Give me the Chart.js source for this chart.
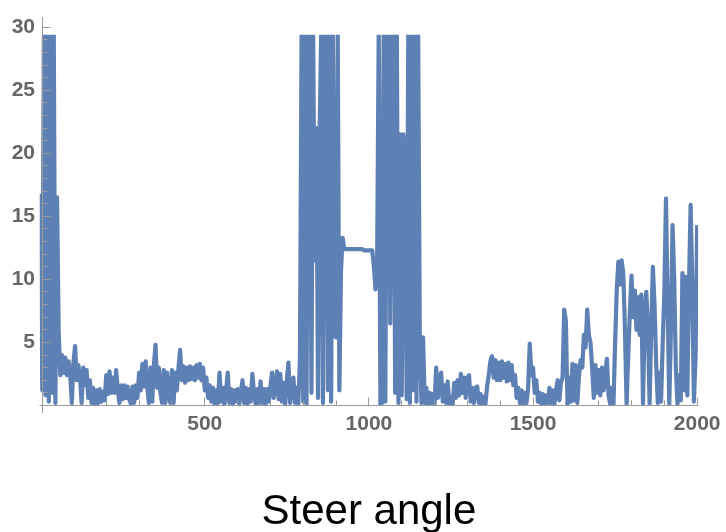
<!DOCTYPE html>
<html>
<head>
<meta charset="utf-8">
<title>Steer angle</title>
<script src="https://cdn.jsdelivr.net/npm/chart.js@4/dist/chart.umd.min.js"></script>
<style>
  html, body { margin: 0; padding: 0; background: #fff; }
  #wrap { width: 726px; height: 532px; }
</style>
</head>
<body>
<div id="wrap"><canvas id="steerChart" width="726" height="532"></canvas></div>
<script>
// one value every 5 samples (30 = cut off at the top)
const sampleStep = 5;
const steerAngle = [
    16.8, 1.2, 30, 0.8, 30, 0.3, 30, 1.0, 30, 0.2,          // 0
    16.5, 5.8, 2.4, 4.0, 2.6, 3.8, 2.4, 3.5, 2.5, 0.2,      // 50
    3.4, 4.7, 2.0, 3.2, 2.2, 0.2, 3.0, 1.6, 2.8, 0.6,       // 100
    2.0, 0.2, 1.4, 0.1, 1.2, 0.2, 1.3, 0.3, 1.1, 0.4,       // 150
    2.4, 0.9, 2.7, 1.0, 2.2, 1.0, 2.8, 1.2, 0.2, 1.6,       // 200
    0.5, 1.6, 0.6, 1.5, 0.5, 0.1, 1.5, 0.2, 1.6, 0.6,       // 250
    2.6, 1.2, 3.3, 1.5, 3.5, 1.4, 0.2, 3.0, 0.3, 3.2,       // 300
    4.8, 1.4, 3.0, 1.0, 0.2, 2.8, 0.2, 2.6, 1.0, 0.2,       // 350
    2.8, 0.2, 2.6, 1.2, 3.0, 4.4, 2.0, 3.1, 1.8, 3.0,       // 400
    2.0, 3.1, 2.1, 3.0, 2.0, 3.2, 2.2, 3.3, 2.0, 3.0,       // 450
    1.2, 2.2, 0.6, 1.6, 0.3, 1.4, 0.1, 1.2, 0.2, 2.6,       // 500
    0.3, 1.4, 0.1, 1.2, 2.6, 0.2, 1.3, 0.1, 1.2, 0.3,       // 550
    1.3, 0.1, 1.1, 2.0, 0.2, 1.4, 0.1, 1.3, 0.3, 2.5,       // 600
    1.0, 0.1, 1.3, 0.2, 1.9, 0.2, 1.3, 0.1, 1.3, 0.3,       // 650
    1.5, 2.6, 0.6, 1.4, 2.7, 0.5, 2.5, 0.3, 1.8, 0.1,       // 700
    2.0, 3.4, 0.2, 1.4, 2.2, 0.2, 1.4, 0.1, 3.7, 30,        // 750
    0.3, 30, 0.1, 30, 30, 1.0, 30, 11.5, 22.0, 0.6,         // 800
    22.0, 30, 0.2, 30, 30, 1.2, 30, 0.3, 30, 5.5,           // 850
    5.4, 30, 1.2, 10.7, 13.3, 12.4, 12.4, 12.4, 12.4, 12.4, // 900
    12.4, 12.4, 12.4, 12.4, 12.4, 12.4, 12.4, 12.3, 12.3, 12.3, // 950
    12.3, 12.3, 12.3, 11.1, 9.2, 11.0, 30, 0.1, 0.2, 30,    // 1000
    0.3, 30, 30, 6.5, 30, 30, 1.0, 30, 0.2, 21.5,           // 1050
    0.8, 21.5, 18.4, 0.5, 30, 0.2, 30, 1.2, 30, 0.3,        // 1100
    30, 5.6, 0.2, 5.4, 0.2, 1.4, 0.1, 1.0, 0.2, 0.9,        // 1150
    0.1, 3.0, 0.6, 1.4, 2.6, 0.3, 1.6, 0.2, 1.9, 0.1,       // 1200
    0.6, 0.1, 1.8, 0.6, 2.0, 0.8, 2.5, 1.0, 2.2, 0.6,       // 1250
    2.2, 2.4, 0.3, 1.4, 0.2, 1.4, 1.5, 0.2, 0.9, 0.1,       // 1300
    0.7, 0.1, 1.5, 2.4, 3.5, 3.9, 2.2, 3.6, 2.0, 3.4,       // 1350
    2.0, 3.5, 2.2, 3.3, 1.9, 3.4, 2.0, 3.2, 1.6, 2.4,       // 1400
    0.6, 1.4, 0.2, 1.2, 0.1, 1.0, 0.2, 1.4, 4.9, 2.4,       // 1450
    3.0, 1.0, 2.0, 0.3, 1.0, 0.1, 0.9, 0.1, 0.8, 0.2,       // 1500
    1.4, 0.2, 1.2, 0.1, 1.2, 2.0, 0.4, 1.8, 2.2, 7.6,       // 1550
    6.7, 0.1, 2.2, 0.3, 3.3, 0.4, 3.2, 0.2, 2.4, 3.6,       // 1600
    3.0, 5.6, 4.6, 7.6, 5.6, 5.0, 3.0, 0.6, 3.2, 1.0,       // 1650
    2.8, 0.8, 3.0, 1.2, 2.6, 3.7, 0.8, 0.1, 1.4, 0.1,       // 1700
    5.0, 9.2, 11.4, 9.6, 11.5, 10.4, 6.0, 0.1, 4.0, 7.5,    // 1750
    10.3, 7.0, 9.1, 6.0, 8.6, 5.6, 8.8, 0.1, 7.0, 9.0,      // 1800
    6.0, 0.1, 6.0, 11.0, 8.0, 3.4, 0.2, 2.6, 0.3, 5.0,      // 1850
    9.0, 16.4, 8.0, 0.1, 6.0, 14.3, 10.0, 3.0, 0.1, 2.4,    // 1900
    0.4, 10.5, 1.2, 10.2, 0.8, 9.5, 15.9, 9.8, 0.3, 3.8,    // 1950
    14.3                                                     // 2000
];
const xMajorTicks = [500, 1000, 1500, 2000];
const yMajorTicks = [5, 10, 15, 20, 25, 30];
const xMinorStep = 100;
const yMinorStep = 1;
const titleText = 'Steer angle';

const lineColor = '#5e81b5';
const axisColor = '#9a9a9a';
const labelColor = '#666666';
const plotTop = 29.4;   // plot range is cut here
const yAxisAtX = 6;

const puncte = steerAngle.map((v, i) => ({ x: i * sampleStep, y: v }));

// taie linia la marginea de sus a domeniului
const clipPlugin = {
    id: 'clipTop',
    beforeDatasetsDraw(chart) {
        const { ctx, chartArea } = chart;
        const yTop = chart.scales.y.getPixelForValue(plotTop);
        ctx.save();
        ctx.beginPath();
        ctx.rect(chartArea.left, yTop, chartArea.right - chartArea.left, chartArea.bottom - yTop);
        ctx.clip();
    },
    afterDatasetsDraw(chart) {
        chart.ctx.restore();
    }
};

// axe cu gradatii spre interior, ca in Mathematica
const axesPlugin = {
    id: 'axesInside',
    afterDraw(chart) {
        const { ctx, chartArea } = chart;
        const xs = chart.scales.x;
        const ys = chart.scales.y;
        const x0 = Math.floor(xs.getPixelForValue(yAxisAtX)) + 0.5;
        const y0 = Math.floor(ys.getPixelForValue(0)) + 0.5;

        ctx.save();
        ctx.strokeStyle = axisColor;
        ctx.lineWidth = 1;
        ctx.beginPath();
        ctx.moveTo(chartArea.left, y0);
        ctx.lineTo(chartArea.right, y0);
        ctx.moveTo(x0, chartArea.top);
        ctx.lineTo(x0, chartArea.bottom);

        for (let v = xMinorStep; v <= 2000; v += xMinorStep) {
            const len = xMajorTicks.includes(v) ? 8 : 5;
            const px = Math.floor(xs.getPixelForValue(v)) + 0.5;
            ctx.moveTo(px, y0);
            ctx.lineTo(px, y0 - len);
        }
        for (let v = yMinorStep; v <= 30; v += yMinorStep) {
            const len = yMajorTicks.includes(v) ? 8 : 5;
            const py = Math.floor(ys.getPixelForValue(v)) + 0.5;
            ctx.moveTo(x0, py);
            ctx.lineTo(x0 + len, py);
        }
        ctx.stroke();
        ctx.restore();
    }
};

const tickFont = { family: 'Liberation Sans', size: 21, weight: 'bold' };

new Chart(document.getElementById('steerChart'), {
    type: 'line',
    data: {
        datasets: [{
            data: puncte,
            borderColor: lineColor,
            borderWidth: 4.2,
            borderJoinStyle: 'round',
            pointRadius: 0,
            tension: 0,
            fill: false
        }]
    },
    options: {
        responsive: false,
        animation: false,
        devicePixelRatio: 1,
        layout: { padding: { top: 7, right: 27.7, bottom: 1.1, left: 0 } },
        plugins: {
            legend: { display: false },
            tooltip: { enabled: false },
            title: {
                display: true,
                text: titleText,
                position: 'bottom',
                fullSize: false,
                color: '#000',
                font: { family: 'Liberation Sans', size: 42, weight: 'normal', lineHeight: 0.9 },
                padding: { top: 40.1, bottom: 0 }
            }
        },
        scales: {
            x: {
                type: 'linear',
                min: -3.4,
                max: 2003.4,
                grid: { display: false, drawTicks: false },
                border: { display: false },
                afterBuildTicks: s => { s.ticks = xMajorTicks.map(v => ({ value: v })); },
                afterFit: s => { s.height = 40; },
                ticks: {
                    autoSkip: false,
                    maxRotation: 0,
                    padding: -1,
                    color: labelColor,
                    font: tickFont,
                    callback: v => String(v)
                }
            },
            y: {
                type: 'linear',
                min: -0.6,
                max: 30.8,
                grid: { display: false, drawTicks: false },
                border: { display: false },
                afterBuildTicks: s => { s.ticks = yMajorTicks.map(v => ({ value: v })); },
                afterFit: s => { s.width = 39.5; },
                ticks: {
                    autoSkip: false,
                    padding: 4.5,
                    color: labelColor,
                    font: tickFont,
                    callback: v => String(v)
                }
            }
        }
    },
    plugins: [clipPlugin, axesPlugin]
});
</script>
</body>
</html>
